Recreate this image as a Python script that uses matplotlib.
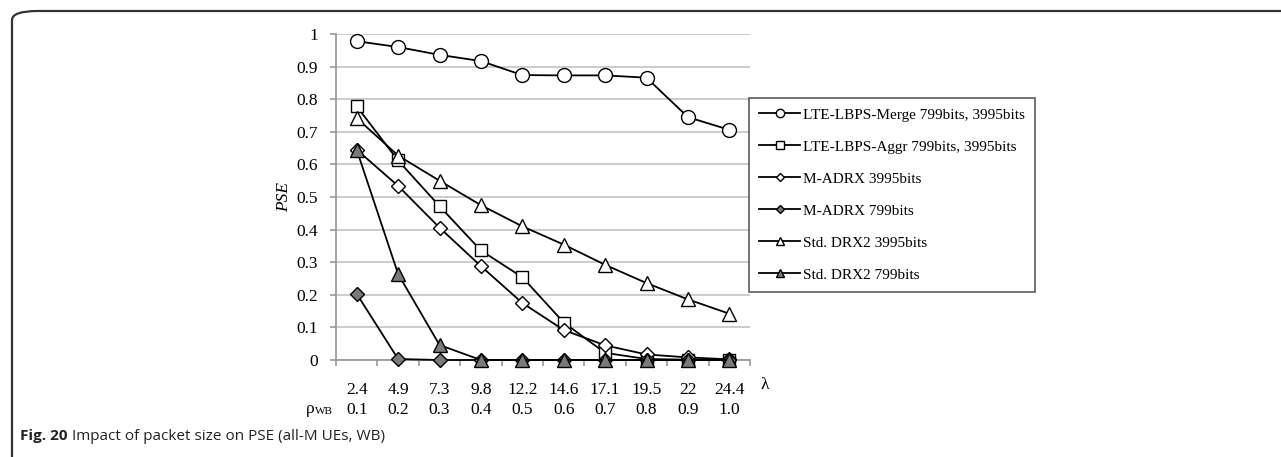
import matplotlib
matplotlib.use("Agg")
import matplotlib.pyplot as plt
from matplotlib.patches import FancyBboxPatch
from matplotlib.ticker import FixedLocator, FuncFormatter
import matplotlib.transforms as mtransforms

# --- data ---
lam = ['2.4', '4.9', '7.3', '9.8', '12.2', '14.6', '17.1', '19.5', '22', '24.4']
rho_wb = ['0.1', '0.2', '0.3', '0.4', '0.5', '0.6', '0.7', '0.8', '0.9', '1.0']

merge = [0.978, 0.960, 0.936, 0.917, 0.874, 0.873, 0.873, 0.866, 0.745, 0.706]
aggr = [0.778, 0.612, 0.472, 0.336, 0.254, 0.115, 0.022, 0.003, 0.001, 0.001]
madrx_3995 = [0.645, 0.534, 0.406, 0.288, 0.175, 0.092, 0.045, 0.017, 0.008, 0.002]
madrx_799 = [0.203, 0.003, 0.0, 0.0, 0.0, 0.0, 0.0, 0.0, 0.0, 0.0]
drx2_3995 = [0.742, 0.627, 0.550, 0.475, 0.410, 0.354, 0.292, 0.236, 0.186, 0.142]
drx2_799 = [0.645, 0.264, 0.046, 0.0, 0.0, 0.0, 0.0, 0.0, 0.0, 0.0]

W, H = 1281, 457
fig = plt.figure(figsize=(W / 100, H / 100), dpi=100)

serif = ['Liberation Serif', 'DejaVu Serif']
plt.rcParams['font.family'] = serif

# outer frame with rounded top-left corner
frame = FancyBboxPatch((12 / W, -0.5), 2.0, 0.5 + (1 - 11 / H),
                       boxstyle="round,pad=0,rounding_size=0.02",
                       transform=fig.transFigure, fill=False,
                       edgecolor='#333333', linewidth=1.6, clip_on=False)
fig.patches.append(frame)

ax = fig.add_axes([336 / W, 1 - 360 / H, (750 - 336) / W, (360 - 34) / H])
x = list(range(len(lam)))

grey_fill = '#7a7a7a'
kw = dict(color='black', linewidth=1.3, markeredgecolor='black', markeredgewidth=1.0,
          clip_on=False, zorder=5)
ax.plot(x, merge, marker='o', markersize=10, markerfacecolor='white',
        label='LTE-LBPS-Merge 799bits, 3995bits', **kw)
ax.plot(x, aggr, marker='s', markersize=9, markerfacecolor='white',
        label='LTE-LBPS-Aggr 799bits, 3995bits', **kw)
ax.plot(x, madrx_3995, marker='D', markersize=7, markerfacecolor='white',
        label='M-ADRX 3995bits', **kw)
ax.plot(x, madrx_799, marker='D', markersize=7, markerfacecolor=grey_fill,
        label='M-ADRX 799bits', **kw)
ax.plot(x, drx2_3995, marker='^', markersize=10, markerfacecolor='white',
        label='Std. DRX2 3995bits', **kw)
ax.plot(x, drx2_799, marker='^', markersize=10, markerfacecolor=grey_fill,
        label='Std. DRX2 799bits', **kw)

ax.set_xlim(-0.5, len(lam) - 0.5)
ax.set_ylim(0, 1)
ax.set_yticks([i / 10 for i in range(11)])
ax.yaxis.set_major_formatter(FuncFormatter(lambda v, p: '%g' % round(v, 1)))
ax.grid(axis='y', color='#c4c4c4', linewidth=1.2)
ax.set_axisbelow(True)

for s in ['top', 'right']:
    ax.spines[s].set_visible(False)
for s in ['left', 'bottom']:
    ax.spines[s].set_color('#9a9a9a')
    ax.spines[s].set_linewidth(1.3)

# category boundaries carry the tick marks, centres carry the labels
ax.xaxis.set_major_locator(FixedLocator([i - 0.5 for i in range(len(lam) + 1)]))
ax.xaxis.set_major_formatter(FuncFormatter(lambda v, p: ''))
ax.xaxis.set_minor_locator(FixedLocator(x))
ax.set_xticklabels(lam, minor=True)
ax.tick_params(axis='x', which='major', length=4, width=1.2, color='#9a9a9a')
ax.tick_params(axis='x', which='minor', length=0, pad=16, labelsize=12.5)
ax.tick_params(axis='y', length=4, width=1.2, color='#9a9a9a', pad=9, labelsize=12.5)

ax.set_ylabel('PSE', fontstyle='italic', fontsize=12.5, labelpad=3)

trans = mtransforms.blended_transform_factory(ax.transData, fig.transFigure)
for xi, r in zip(x, rho_wb):
    ax.text(xi, 1 - 410 / H, r, transform=trans, ha='center', va='center', fontsize=12.5)
fig.text(765 / W, 1 - 385 / H, 'λ', ha='center', va='center', fontsize=12.5)
fig.text(315 / W, 1 - 409 / H, 'ρ', ha='right', va='center', fontsize=12.5)
fig.text(333 / W, 1 - 411 / H, 'WB', ha='right', va='center', fontsize=8)

leg = fig.legend(loc='upper left', bbox_to_anchor=(749 / W, 1 - 98 / H),
                 borderaxespad=0, frameon=True, fancybox=False,
                 edgecolor='#333333', fontsize=11.0, markerscale=0.6,
                 handlelength=2.7, handletextpad=0.2, labelspacing=1.2,
                 borderpad=0.65)
leg.get_frame().set_linewidth(1.2)

# caption
cap_y = 1 - 436 / H
t1 = fig.text(20 / W, cap_y, 'Fig. 20', ha='left', va='center', fontsize=11,
              fontweight='bold', family=['Open Sans', 'DejaVu Sans'], color='#222222')
fig.canvas.draw()
bb = t1.get_window_extent()
fig.text((bb.x1 + 4) / W, cap_y, 'Impact of packet size on PSE (all-M UEs, WB)',
         ha='left', va='center', fontsize=11, family=['Open Sans', 'DejaVu Sans'],
         color='#222222')

fig.savefig('out.png', dpi=100)
